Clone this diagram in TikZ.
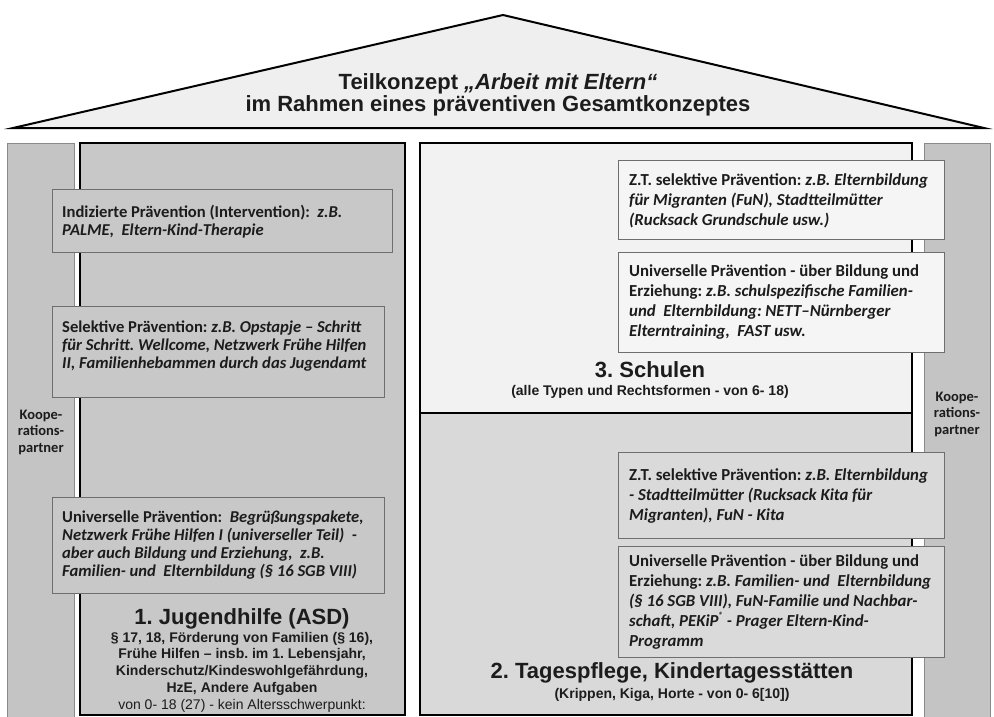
\documentclass[tikz,border=0pt]{standalone}
\usepackage{fontspec}
\setmainfont{Liberation Sans}
\newfontfamily\calfont{Carlito}
\definecolor{roofc}{HTML}{EFEFEF}
\definecolor{partc}{HTML}{C4C4C4}
\definecolor{partline}{HTML}{8A8A8A}
\definecolor{asdc}{HTML}{C8C8C8}
\definecolor{schc}{HTML}{F2F2F2}
\definecolor{kitac}{HTML}{D9D9D9}
\definecolor{boxline}{HTML}{6E6E6E}
\definecolor{sboxc}{HTML}{F5F5F5}
\definecolor{kboxc}{HTML}{DADADA}
\definecolor{txt}{HTML}{1C1C1C}
\frenchspacing
\begin{document}
\frenchspacing
\begin{tikzpicture}[x=1pt,y=-1pt,
  partcol/.style={fill=partc,draw=partline,line width=0.8pt},
  mainbox/.style={draw=black,line width=2pt},
  infobox/.style={draw=boxline,line width=0.9pt},
  infotext/.style={anchor=west,align=left,inner sep=0pt,text=txt,
     font=\calfont\bfseries\fontsize{16.8}{20}\selectfont},
  infotextl/.style={infotext,font=\calfont\bfseries\fontsize{16.6}{18}\selectfont},
  bigtitle/.style={align=center,inner sep=0pt,text=txt,
     font=\bfseries\fontsize{22}{26}\selectfont},
  subtitle/.style={align=center,inner sep=0pt,text=txt,
     font=\bfseries\fontsize{14}{16}\selectfont},
  parttext/.style={align=center,inner sep=0pt,text=txt,
     font=\calfont\bfseries\fontsize{14.5}{16.5}\selectfont}]
\useasboundingbox (0,0) rectangle (994,717);
\begin{scope}
\clip (0,0) rectangle (994,717);
% roof
\draw[line width=2pt,fill=roofc,line join=miter] (13,128) -- (503,15) -- (984,128) -- cycle;
\node[align=center,inner sep=0pt,text=txt,font=\bfseries\fontsize{22}{22.5}\selectfont] (title) at (498,95)
  {Teilkonzept \textit{„Arbeit mit Eltern“}\\im Rahmen eines präventiven Gesamtkonzeptes};
% partner columns
\draw[partcol] (7,143) rectangle (74,720);
\draw[partcol] (924,143) rectangle (990,720);
\node[parttext] (pl) at (41,432) {Koope-\\rations-\\partner};
\node[parttext] (pr) at (957,414) {Koope-\\rations-\\partner};
% main boxes
\draw[mainbox,line width=2.6pt,fill=asdc] (80,143) rectangle (405,715);
\draw[mainbox,fill=schc] (420,143) rectangle (912,413);
\draw[mainbox,fill=kitac] (420,413) rectangle (912,715);
% left info boxes
\draw[infobox,fill=asdc] (52,189) rectangle (392,252);
\node[infotextl] (l1) at (62,222) {Indizierte Prävention (Intervention):~ \textit{z.B.}\\\textit{PALME,~ Eltern-Kind-Therapie}};
\draw[infobox,fill=asdc] (52,306) rectangle (384,397);
\node[infotextl] (l2) at (62,346) {Selektive Prävention: \textit{z.B. Opstapje – Schritt}\\\textit{für Schritt. Wellcome, Netzwerk Frühe Hilfen}\\\textit{II, Familienhebammen durch das Jugendamt}};
\draw[infobox,fill=asdc] (52,497) rectangle (384,593);
\node[infotextl] (l3) at (62,545) {Universelle Prävention:~ \textit{Begrüßungspakete,}\\\textit{Netzwerk Frühe Hilfen I (universeller Teil)~ -}\\\textit{aber auch Bildung und Erziehung,~ z.B.}\\\textit{Familien- und~ Elternbildung (§ 16 SGB VIII)}};
% right info boxes
\draw[infobox,fill=sboxc] (618,160) rectangle (944,239);
\node[infotext] (r1) at (629,201) {Z.T. selektive Prävention: \textit{z.B. Elternbildung}\\\textit{für Migranten (FuN), Stadtteilmütter}\\\textit{(Rucksack Grundschule usw.)}};
\draw[infobox,fill=sboxc] (618,252) rectangle (944,352);
\node[infotext] (r2) at (629,302) {Universelle Prävention - über Bildung und\\Erziehung: \textit{z.B. schulspezifische Familien-}\\\textit{und~ Elternbildung: NETT–Nürnberger}\\\textit{Elterntraining,~ FAST usw.}};
\draw[infobox,fill=kboxc] (618,452) rectangle (944,538);
\node[infotext] (r3) at (629,496) {Z.T. selektive Prävention: \textit{z.B. Elternbildung}\\\textit{- Stadtteilmütter (Rucksack Kita für}\\\textit{Migranten), FuN - Kita}};
\draw[infobox,fill=kboxc] (618,546) rectangle (944,657);
\node[infotext] (r4) at (629,602) {Universelle Prävention - über Bildung und\\Erziehung: \textit{z.B. Familien- und~ Elternbildung}\\\textit{(§ 16 SGB VIII), FuN-Familie und Nachbar-}\\\textit{schaft, PEKiP\raisebox{0.45em}{\fontsize{9}{9}\selectfont ®} - Prager Eltern-Kind-}\\\textit{Programm}};
% titles
\node[bigtitle] (asd) at (242,619) {1. Jugendhilfe (ASD)};
\node[align=center,inner sep=0pt,text=txt,font=\bfseries\fontsize{14}{16.7}\selectfont] (asdsub) at (242,672)
  {§ 17, 18, Förderung von Familien (§ 16),\\Frühe Hilfen – insb. im 1. Lebensjahr,\\Kinderschutz/Kindeswohlgefährdung,\\HzE, Andere Aufgaben\\{\mdseries von 0- 18 (27) - kein Altersschwerpunkt:}};
\node[bigtitle] (sch) at (650,370) {3. Schulen};
\node[subtitle] (schsub) at (650,392) {(alle Typen und Rechtsformen - von 6- 18)};
\node[bigtitle] (kita) at (672,673) {2. Tagespflege, Kindertagesstätten};
\node[subtitle] (kitasub) at (672,695) {(Krippen, Kiga, Horte - von 0- 6[10])};
\end{scope}
\end{tikzpicture}
\end{document}
